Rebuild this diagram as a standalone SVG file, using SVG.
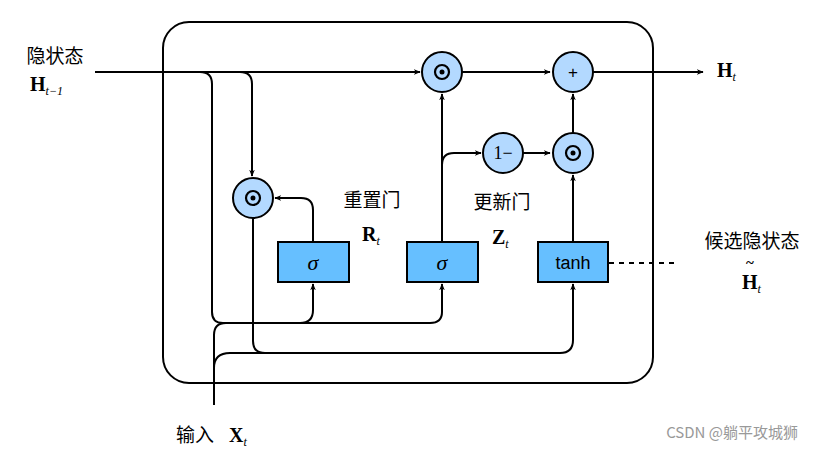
<svg xmlns="http://www.w3.org/2000/svg" width="813" height="450" viewBox="0 0 813 450">
<defs>
<marker id="a" viewBox="0 0 10 10" refX="9" refY="5" markerWidth="7" markerHeight="7" orient="auto-start-reverse" markerUnits="userSpaceOnUse"><path d="M0,1 L10,5 L0,9 L3,5 Z" fill="#000"/></marker>
<style>
.l{fill:none;stroke:#000;stroke-width:2}
.c{fill:#b3d9ff;stroke:#000;stroke-width:2}
.b{fill:#66bfff;stroke:#000;stroke-width:2}
.z{font-family:"Noto Sans CJK SC","Noto Sans",sans-serif;font-size:19px}
.m{font-family:"Liberation Serif",serif;font-weight:bold;font-size:20px}
.s{font-family:"Liberation Serif",serif;font-style:italic;font-weight:normal;font-size:12px}
</style>
</defs>
<rect width="813" height="450" fill="#fff"/>
<rect x="163" y="22" width="490" height="361" rx="26" class="l"/>
<g id="connectors">
<path class="l" d="M95,72 H420" marker-end="url(#a)"/>
<path class="l" d="M200,72 Q212,72 212,84 V312 Q212,323 223,323 H430 Q442,323 442,312 V284" marker-end="url(#a)"/>
<path class="l" d="M300,323 Q313,323 313,310 V284" marker-end="url(#a)"/>
<path class="l" d="M240,72 Q252,72 252,84 V176" marker-end="url(#a)"/>
<path class="l" d="M214,405 V335 Q214,323 226,323"/>
<path class="l" d="M214,405 V368 Q214,353 230,353 H560 Q573,353 573,340 V284" marker-end="url(#a)"/>
<path class="l" d="M253,218 V341 Q253,353 265,353"/>
<path class="l" d="M313,242 V210 Q313,198 301,198 H275" marker-end="url(#a)"/>
<path class="l" d="M442,242 V94" marker-end="url(#a)"/>
<path class="l" d="M442,165 Q442,153 454,153 H481" marker-end="url(#a)"/>
<path class="l" d="M523,153 H550" marker-end="url(#a)"/>
<path class="l" d="M573,242 V175" marker-end="url(#a)"/>
<path class="l" d="M573,133 V94" marker-end="url(#a)"/>
<path class="l" d="M462,72 H550" marker-end="url(#a)"/>
<path class="l" d="M593,72 H703" marker-end="url(#a)"/>
<path d="M609,263 H675" fill="none" stroke="#000" stroke-width="2" stroke-dasharray="5,5"/>
</g>
<g id="mul1"><circle cx="442" cy="72" r="20" class="c"/><circle cx="442" cy="72" r="7" fill="none" stroke="#000" stroke-width="2.2"/><circle cx="442" cy="72" r="2.5"/></g>
<g id="plus"><circle cx="573" cy="72" r="20" class="c"/><text x="573" y="78" text-anchor="middle" font-family="Liberation Sans,sans-serif" font-size="17">+</text></g>
<g id="oneminus"><circle cx="503" cy="153" r="20" class="c"/><text x="503" y="159" text-anchor="middle" font-family="Liberation Serif,serif" font-size="18">1−</text></g>
<g id="mul2"><circle cx="573" cy="153" r="20" class="c"/><circle cx="573" cy="153" r="7" fill="none" stroke="#000" stroke-width="2.2"/><circle cx="573" cy="153" r="2.5"/></g>
<g id="mul3"><circle cx="253" cy="198" r="20" class="c"/><circle cx="253" cy="198" r="7" fill="none" stroke="#000" stroke-width="2.2"/><circle cx="253" cy="198" r="2.5"/></g>
<g id="sig1"><rect x="278" y="242" width="71" height="40" class="b"/><text x="313" y="270" text-anchor="middle" font-family="Liberation Serif,serif" font-style="italic" font-size="22">σ</text></g>
<g id="sig2"><rect x="407" y="242" width="71" height="40" class="b"/><text x="442" y="270" text-anchor="middle" font-family="Liberation Serif,serif" font-style="italic" font-size="22">σ</text></g>
<g id="tanh"><rect x="538" y="242" width="70" height="40" class="b"/><text x="573" y="269" text-anchor="middle" font-family="Liberation Sans,sans-serif" font-size="18">tanh</text></g>
<g id="labels">
<text x="55" y="63" text-anchor="middle" class="z">隐状态</text>
<text x="30" y="91" class="m">H<tspan class="s" dy="4">t−1</tspan></text>
<text x="372" y="207" text-anchor="middle" class="z">重置门</text>
<text x="362" y="241" class="m">R<tspan class="s" dy="4">t</tspan></text>
<text x="502" y="209" text-anchor="middle" class="z">更新门</text>
<text x="492" y="244" class="m">Z<tspan class="s" dy="4">t</tspan></text>
<text x="752" y="248" text-anchor="middle" class="z">候选隐状态</text>
<text x="742" y="289" class="m">H<tspan class="s" dy="4">t</tspan></text>
<text x="746" y="268" font-family="Liberation Serif,serif" font-weight="bold" font-size="15">~</text>
<text x="717" y="77" class="m">H<tspan class="s" dy="4">t</tspan></text>
<text x="176" y="442" class="z">输入</text>
<text x="229" y="442" class="m">X<tspan class="s" dy="4">t</tspan></text>
<text x="798" y="438" text-anchor="end" font-family="Noto Sans CJK SC,sans-serif" font-size="15" fill="#999">CSDN @躺平攻城狮</text>
</g>
</svg>
